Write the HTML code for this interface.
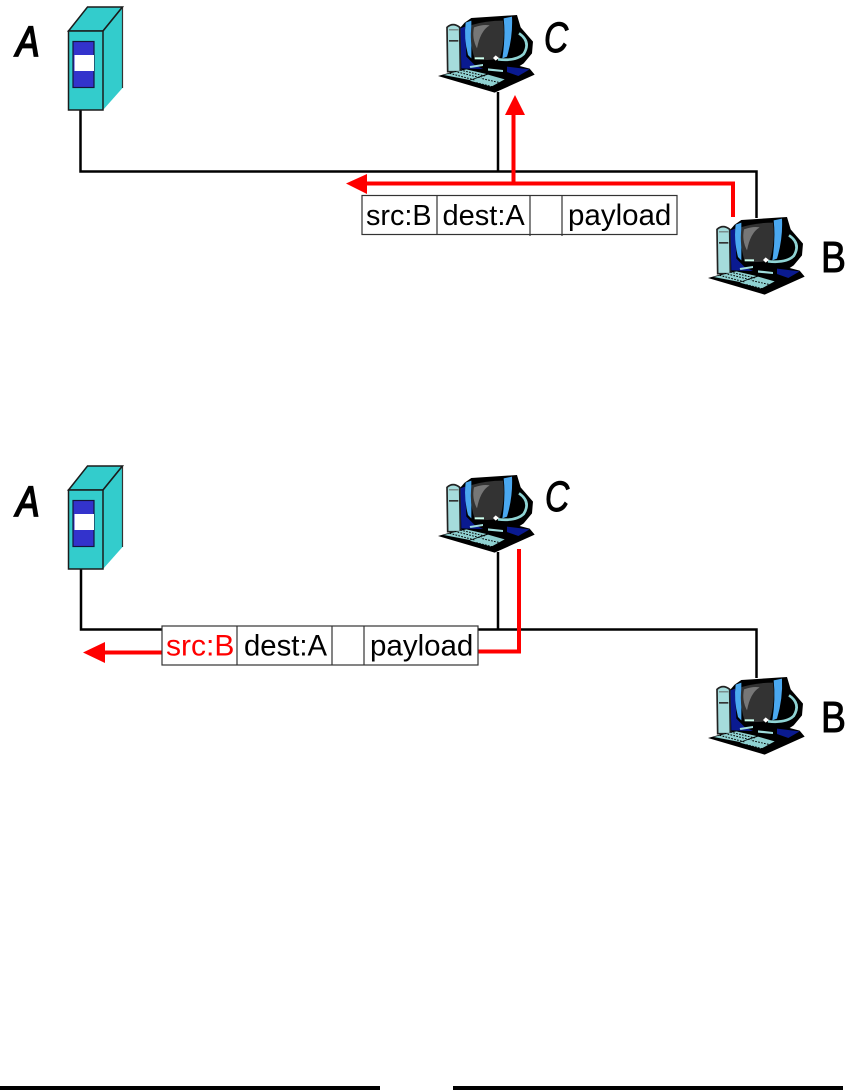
<!DOCTYPE html>
<html>
<head>
<meta charset="utf-8">
<style>
html,body{margin:0;padding:0;background:#fff;}
svg{display:block;}
text{font-family:"Liberation Sans",sans-serif;}
</style>
</head>
<body>
<svg width="865" height="1090" viewBox="0 0 865 1090" xmlns="http://www.w3.org/2000/svg">
<defs>
  <g id="pc" transform="translate(-18.33 -15) scale(0.3333)">
    <!-- black silhouette -->
    <polygon points="120,85 135,68 155,54 292,45 303,82 340,125 337,160 312,190 300,198 330,206 345,224 225,278 55,228 125,208 120,200" fill="#000"/>
    <!-- navy -->
    <polygon points="122,85 136,80 140,170 165,195 190,207 125,205" fill="#0a1a90"/>
    <polygon points="262,200 330,208 296,228 262,216" fill="#0a1a90"/>
    <!-- tower -->
    <path d="M82,82 Q100,66 120,82 L122,215 L84,215 Z" fill="#a5dcdc" stroke="#222" stroke-width="5"/>
    <rect x="88" y="120" width="28" height="5" fill="#333"/>
    <rect x="88" y="88" width="28" height="3" fill="#666"/>
    <!-- bezel -->
    <path d="M138,68 L155,62 L155,175 L145,165 Q132,115 138,68 Z" fill="#4aa8f0"/>
    <path d="M252,55 L277,50 Q280,110 262,170 L248,175 Q258,110 252,55 Z" fill="#4aa8f0"/>
    <!-- screen -->
    <path d="M156,75 Q200,62 250,62 Q258,120 240,176 Q200,184 165,176 Q148,125 156,75 Z" fill="#333"/>
    <path d="M163,82 Q190,72 210,76 Q182,92 172,145 Q156,115 163,82 Z" fill="#777"/>
    <!-- cable -->
    <path d="M298,100 Q335,125 312,162 Q290,184 235,178" fill="none" stroke="#8fd4d4" stroke-width="8"/>
    <rect x="165" y="172" width="28" height="6" fill="#cfe"/>
    <polygon points="228,166 238,174 228,182 220,174" fill="#fff"/>
    <polygon points="150,198 190,192 190,198 152,204" fill="#9fdcdc"/>
    <polygon points="205,205 250,210 250,216 205,212" fill="#9fdcdc"/>
    <!-- keyboard -->
    <polygon points="72,225 140,208 200,222 150,240" fill="#8fd0d0"/>
    <polygon points="150,242 205,224 255,238 215,260" fill="#8fd0d0"/>
    <path d="M90,220 L165,240 M105,214 L185,234 M122,210 L195,228 M170,248 L225,262 M188,236 L240,248" stroke="#000" stroke-width="3" stroke-dasharray="5 4" fill="none"/>
  </g>
  <g id="srv">
    <polygon points="68.500,31 87.500,7 122.500,7 103,31" fill="#33cccc" stroke="#1b1b1b" stroke-width="1.500"/>
    <polygon points="103,31 122.500,7 122.500,88 103,110" fill="#33cccc"/>
    <path d="M122.500,7 V88" stroke="#333" stroke-width="1.200"/>
    <path d="M103,31 L122.500,7" stroke="#1b1b1b" stroke-width="1.500"/>
    <rect x="68.500" y="31" width="34.500" height="79" fill="#33cccc" stroke="#1b1b1b" stroke-width="1.500"/>
    <rect x="73" y="41.500" width="21" height="46" fill="#3333cc" stroke="#14143c" stroke-width="1.200"/>
    <rect x="74.500" y="55" width="19.500" height="16" fill="#fff"/>
  </g>
</defs>

<rect width="865" height="1090" fill="#fff"/>

<!-- Top network -->
<g fill="none" stroke="#000" stroke-width="2.500">
  <path d="M80.500,110 V171.500 H756.500 V218"/>
  <path d="M498,92 V171.500"/>
</g>
<use href="#srv"/>
<use href="#pc" x="438" y="15"/>
<use href="#pc" x="708" y="217"/>
<text transform="translate(16 56) scale(0.82 1)" font-size="43" font-style="italic" stroke="#000" stroke-width="1.800">A</text>
<text transform="translate(544 52) scale(0.78 1)" font-size="43" font-style="italic" stroke="#000" stroke-width="1">C</text>
<text transform="translate(821 272) scale(0.85 1)" font-size="44" stroke="#000" stroke-width="1">B</text>

<!-- Top red -->
<g fill="none" stroke="#ff0000" stroke-width="4">
  <path d="M365,183.500 H733 V217"/>
  <path d="M513.500,183.500 V113"/>
</g>
<polygon points="346,183.500 367,174 367,194" fill="#ff0000"/>
<polygon points="515,95 505,115 525,115" fill="#ff0000"/>

<!-- Top packet -->
<g>
  <rect x="362" y="195.500" width="315" height="39" fill="#fff" stroke="#333" stroke-width="1.200"/>
  <path d="M437,195.500 V234.500 M530,195.500 V236 M562,195.500 V236" stroke="#333" stroke-width="1.200"/>
  <text x="366" y="225" font-size="28.800" fill="#000">src:B</text>
  <text x="442.500" y="225" font-size="29" fill="#000">dest:A</text>
  <text x="568" y="225" font-size="29.500" fill="#000">payload</text>
</g>

<!-- Bottom network -->
<g fill="none" stroke="#000" stroke-width="2.500">
  <path d="M81,569 V629.500 H756.500 V678"/>
  <path d="M498,552 V629.500"/>
</g>
<use href="#srv" y="459"/>
<use href="#pc" x="438" y="475"/>
<use href="#pc" x="708" y="677"/>
<text transform="translate(16 516) scale(0.82 1)" font-size="43" font-style="italic" stroke="#000" stroke-width="1.800">A</text>
<text transform="translate(545 511) scale(0.78 1)" font-size="43" font-style="italic" stroke="#000" stroke-width="1">C</text>
<text transform="translate(821 732) scale(0.85 1)" font-size="44" stroke="#000" stroke-width="1">B</text>

<!-- Bottom red -->
<g fill="none" stroke="#ff0000" stroke-width="4">
  <path d="M478,651.500 H519 V549"/>
  <path d="M104,652.500 H162"/>
</g>
<polygon points="83,652.500 105,642 105,663" fill="#ff0000"/>

<!-- Bottom packet -->
<g>
  <rect x="162" y="626" width="316" height="39" fill="#fff" stroke="#333" stroke-width="1.200"/>
  <path d="M237,626 V665 M332,626 V665 M364,626 V665" stroke="#333" stroke-width="1.200"/>
  <text x="166" y="655.500" font-size="30" fill="#ff0000">src:B</text>
  <text x="244" y="655.500" font-size="29.300" fill="#000">dest:A</text>
  <text x="370" y="655.500" font-size="29.500" fill="#000">payload</text>
</g>

<!-- Bottom rules -->
<rect x="0" y="1086" width="380" height="4" fill="#000"/>
<rect x="453" y="1086" width="390" height="4" fill="#000"/>
</svg>
</body>
</html>
